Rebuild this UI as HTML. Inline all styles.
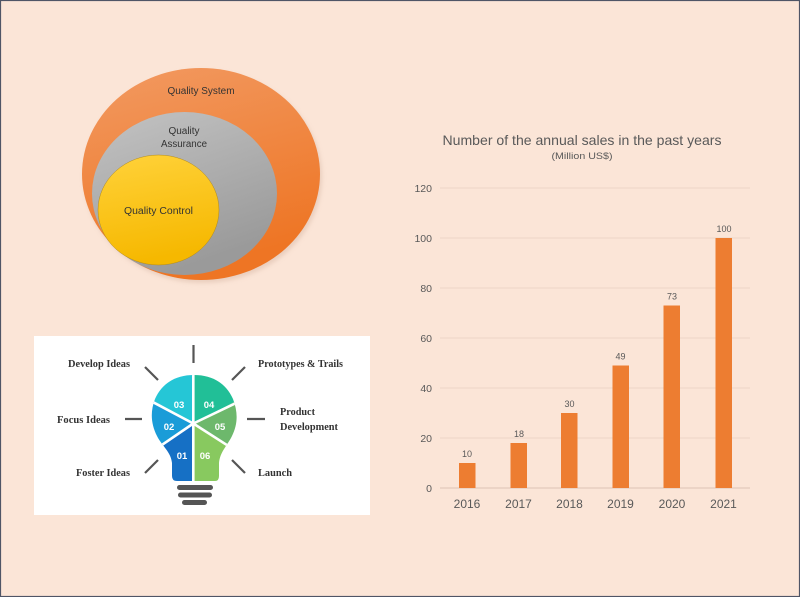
<!DOCTYPE html>
<html><head><meta charset="utf-8"><style>
html,body{margin:0;padding:0;background:#fbe5d7;}
svg{display:block;}
</style></head><body>
<svg width="800" height="597" viewBox="0 0 800 597" xmlns="http://www.w3.org/2000/svg">
<defs>
<linearGradient id="go" x1="0" y1="0" x2="0.3" y2="1">
<stop offset="0" stop-color="#f29a62"/><stop offset="1" stop-color="#ee7524"/></linearGradient>
<linearGradient id="gg" x1="0" y1="0" x2="0.4" y2="1">
<stop offset="0" stop-color="#c3c3c3"/><stop offset="1" stop-color="#9a9a9a"/></linearGradient>
<linearGradient id="gy" x1="0" y1="0" x2="0.2" y2="1">
<stop offset="0" stop-color="#ffd23a"/><stop offset="1" stop-color="#f6b800"/></linearGradient>
<clipPath id="bulb"><path d="M177 481 L215 481 Q219 481 219 476 L219 463 C220 452 227 446 232 436 C238 424 238 412 233 399 C226 383 212 375 194 375 C176 375 162 383 155 399 C150 412 151 424 157 436 C162 446 171 452 172 463 L172 476 Q172 481 177 481 Z"/></clipPath>
<filter id="sh" x="-10%" y="-10%" width="120%" height="120%"><feGaussianBlur stdDeviation="2"/></filter>
</defs>
<rect x="0" y="0" width="800" height="597" fill="#fbe5d7"/>
<rect x="0.5" y="0.5" width="799" height="596" fill="none" stroke="#4f5566" stroke-width="1.2"/>

<!-- ellipses -->
<ellipse cx="203" cy="177" rx="119" ry="106" fill="#d8b8a6" opacity="0.5" filter="url(#sh)"/>
<ellipse cx="201" cy="174" rx="119" ry="106" fill="url(#go)"/>
<ellipse cx="184.5" cy="193.5" rx="92.5" ry="81.5" fill="url(#gg)"/>
<ellipse cx="158.5" cy="210" rx="60.5" ry="55" fill="url(#gy)" stroke="#b08a20" stroke-width="0.5"/>
<g font-family="Liberation Sans, sans-serif" font-size="10" fill="#333" text-anchor="middle">
<text x="201" y="94" textLength="67" lengthAdjust="spacingAndGlyphs">Quality System</text>
<text x="184" y="134">Quality</text>
<text x="184" y="147" textLength="46" lengthAdjust="spacingAndGlyphs">Assurance</text>
<text x="158.5" y="214" textLength="69" lengthAdjust="spacingAndGlyphs">Quality Control</text>
</g>

<!-- lightbulb panel -->
<rect x="34" y="336" width="336" height="179" fill="#ffffff"/>
<g clip-path="url(#bulb)">
<polygon points="193.3,423.5 193.3,0 -187,0 -187,204" fill="#25c6d6"/>
<polygon points="193.3,423.5 613,204 613,0 193.3,0" fill="#21bf97"/>
<polygon points="193.3,423.5 -187,204 -187,614 -87,614" fill="#1a9cd8"/>
<polygon points="193.3,423.5 -87,614 193.3,614" fill="#1670c5"/>
<polygon points="193.3,423.5 193.3,614 493,614" fill="#88c95f"/>
<polygon points="193.3,423.5 493,614 613,204" fill="#6db86c"/>
<g stroke="#ffffff" stroke-width="2.6">
<line x1="193.3" y1="423.5" x2="193.3" y2="300"/>
<line x1="193.3" y1="423.5" x2="193.3" y2="500"/>
<line x1="193.3" y1="423.5" x2="41" y2="343"/>
<line x1="193.3" y1="423.5" x2="361" y2="343"/>
<line x1="193.3" y1="423.5" x2="109" y2="481"/>
<line x1="193.3" y1="423.5" x2="283" y2="481"/>
</g>
</g>
<g font-family="Liberation Sans, sans-serif" font-size="9.5" font-weight="bold" fill="#ffffff" text-anchor="middle">
<text x="179" y="408">03</text>
<text x="209" y="408">04</text>
<text x="169" y="430">02</text>
<text x="220" y="430">05</text>
<text x="182" y="459">01</text>
<text x="205" y="459">06</text>
</g>
<g fill="#555555">
<rect x="177" y="485" width="36" height="5" rx="2.5"/>
<rect x="178" y="492.5" width="34" height="5" rx="2.5"/>
<rect x="182" y="500" width="25" height="5" rx="2.5"/>
</g>
<g stroke="#555555" stroke-width="2.2" stroke-linecap="butt">
<line x1="193.5" y1="345" x2="193.5" y2="363"/>
<line x1="145" y1="367" x2="158" y2="380"/>
<line x1="232" y1="380" x2="245" y2="367"/>
<line x1="125" y1="419" x2="142" y2="419"/>
<line x1="247" y1="419" x2="265" y2="419"/>
<line x1="145" y1="473" x2="158" y2="460"/>
<line x1="232" y1="460" x2="245" y2="473"/>
</g>
<g font-family="Liberation Serif, DejaVu Serif, serif" font-size="10.5" font-weight="bold" fill="#333333">
<text x="68" y="367" textLength="62" lengthAdjust="spacingAndGlyphs">Develop Ideas</text>
<text x="258" y="367" textLength="85" lengthAdjust="spacingAndGlyphs">Prototypes &amp; Trails</text>
<text x="57" y="423" textLength="53" lengthAdjust="spacingAndGlyphs">Focus Ideas</text>
<text x="280" y="415" textLength="35" lengthAdjust="spacingAndGlyphs">Product</text>
<text x="280" y="430" textLength="58" lengthAdjust="spacingAndGlyphs">Development</text>
<text x="76" y="476" textLength="54" lengthAdjust="spacingAndGlyphs">Foster Ideas</text>
<text x="258" y="476" textLength="34" lengthAdjust="spacingAndGlyphs">Launch</text>
</g>

<!-- bar chart -->
<g font-family="Liberation Sans, sans-serif" fill="#595959">
<text x="582" y="145" font-size="14" text-anchor="middle" textLength="279" lengthAdjust="spacingAndGlyphs">Number of the annual sales in the past years</text>
<text x="582" y="159" font-size="9.5" text-anchor="middle" textLength="61" lengthAdjust="spacingAndGlyphs">(Million US$)</text>
</g>
<g stroke="#ecd5c7" stroke-width="1">
<line x1="440" y1="188" x2="750" y2="188"/>
<line x1="440" y1="238" x2="750" y2="238"/>
<line x1="440" y1="288" x2="750" y2="288"/>
<line x1="440" y1="338" x2="750" y2="338"/>
<line x1="440" y1="388" x2="750" y2="388"/>
<line x1="440" y1="438" x2="750" y2="438"/>
</g>
<line x1="440" y1="488" x2="750" y2="488" stroke="#dcc4b6" stroke-width="1"/>
<g font-family="Liberation Sans, sans-serif" font-size="10.5" fill="#595959" text-anchor="end">
<text x="432" y="192">120</text>
<text x="432" y="242">100</text>
<text x="432" y="292">80</text>
<text x="432" y="342">60</text>
<text x="432" y="392">40</text>
<text x="432" y="442">20</text>
<text x="432" y="492">0</text>
</g>
<g fill="#ed7d31">
<rect x="459" y="463" width="16.5" height="25"/>
<rect x="510.5" y="443" width="16.5" height="45"/>
<rect x="561" y="413" width="16.5" height="75"/>
<rect x="612.5" y="365.5" width="16.5" height="122.5"/>
<rect x="663.5" y="305.5" width="16.5" height="182.5"/>
<rect x="715.5" y="238" width="16.5" height="250"/>
</g>
<g font-family="Liberation Sans, sans-serif" font-size="9" fill="#595959" text-anchor="middle">
<text x="467" y="457">10</text>
<text x="519" y="437">18</text>
<text x="569.5" y="407">30</text>
<text x="620.5" y="359.5">49</text>
<text x="672" y="299.5">73</text>
<text x="724" y="232">100</text>
</g>
<g font-family="Liberation Sans, sans-serif" font-size="12" fill="#595959" text-anchor="middle">
<text x="467" y="508">2016</text>
<text x="518.5" y="508">2017</text>
<text x="569.5" y="508">2018</text>
<text x="620.5" y="508">2019</text>
<text x="672" y="508">2020</text>
<text x="723.5" y="508">2021</text>
</g>
</svg>
</body></html>
